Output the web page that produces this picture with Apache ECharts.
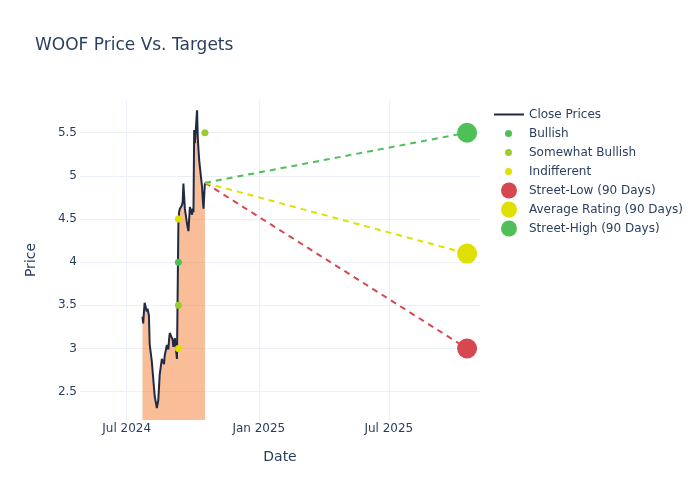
<!DOCTYPE html>
<html><head><meta charset="utf-8">
<script src="https://cdn.jsdelivr.net/npm/echarts@6/dist/echarts.min.js"></script>
<style>html,body{margin:0;padding:0;background:#fff}#c{width:700px;height:500px}</style>
</head><body><div id="c"></div>
<script>
const closeDates = ['2024-07-23','2024-07-24','2024-07-25','2024-07-26','2024-07-29','2024-07-30','2024-07-31',
  '2024-08-01','2024-08-02','2024-08-05','2024-08-06','2024-08-07','2024-08-08','2024-08-09',
  '2024-08-12','2024-08-13','2024-08-14','2024-08-15','2024-08-16','2024-08-19','2024-08-20',
  '2024-08-21','2024-08-22','2024-08-23','2024-08-26','2024-08-27','2024-08-28','2024-08-29','2024-08-30',
  '2024-09-03','2024-09-04','2024-09-05','2024-09-06','2024-09-09','2024-09-10','2024-09-11',
  '2024-09-12','2024-09-13','2024-09-16','2024-09-17','2024-09-18','2024-09-19','2024-09-20',
  '2024-09-23','2024-09-24','2024-09-25','2024-09-26','2024-09-27','2024-09-30',
  '2024-10-01','2024-10-02','2024-10-03','2024-10-04','2024-10-07','2024-10-08','2024-10-09',
  '2024-10-10','2024-10-11','2024-10-14','2024-10-15','2024-10-16','2024-10-17','2024-10-18'];
const closePrices = [3.37,3.29,3.42,3.53,3.43,3.46,3.44,
  3.38,3.05,2.85,2.75,2.65,2.55,2.45,
  2.31,2.32,2.40,2.55,2.70,2.88,2.90,
  2.86,2.82,2.92,3.04,3.02,2.99,3.10,3.18,
  3.10,3.02,3.00,3.12,2.88,2.90,4.45,
  4.58,4.62,4.66,4.70,4.91,4.92,4.62,
  4.45,4.40,4.36,4.50,4.64,4.55,
  4.62,4.58,5.53,5.38,5.76,5.45,5.30,
  5.18,5.10,4.87,4.72,4.62,4.78,4.92];

const bullishDates = ['2024-09-11'];
const bullishTargets = [4.0];
const somewhatBullishDates = ['2024-09-11','2024-10-18'];
const somewhatBullishTargets = [3.5, 5.5];
const indifferentDates = ['2024-09-11','2024-09-11'];
const indifferentTargets = [3.0, 4.5];

const targetDate = '2025-10-18';
const streetLow = 3.0;
const averageRating = 4.1;
const streetHigh = 5.5;

const xTickDates = ['2024-07-01','2025-01-01','2025-07-01'];
const xTickLabels = ['Jul 2024','Jan 2025','Jul 2025'];
const yTickValues = [2.5,3,3.5,4,4.5,5,5.5];

const ts = s => { const p = s.split('-').map(Number); return Date.UTC(p[0], p[1]-1, p[2]); };
const pairs = (ds, vs) => ds.map((d,i) => [ts(d), vs[i]]);
const xTickTs = xTickDates.map(ts);
const lastPt = [ts(closeDates[closeDates.length-1]), closePrices[closePrices.length-1]];

const txt = '#2a3f5f';
const font = 'DejaVu Sans';
const cRed = '#d6474f', cYellow = '#e0e000', cGreen = '#4fc058', cYG = '#9acd32';
const cLine = '#1f2a44';

function dashed(name, target, color){
  return {name, type:'line', data:[lastPt, [ts(targetDate), target]], symbol:'none',
    lineStyle:{color, width:2, type:[6,5]}, z:3, silent:true};
}
function bigDot(name, target, color){
  return {name, type:'scatter', data:[[ts(targetDate), target]], symbol:'circle', symbolSize:20,
    itemStyle:{color, opacity:1}, z:5};
}
function smallDot(name, ds, vs, color){
  return {name, type:'scatter', data:pairs(ds, vs), symbol:'circle', symbolSize:7,
    itemStyle:{color, opacity:1}, z:6};
}

const chart = echarts.init(document.getElementById('c'));
chart.setOption({
  animation:false,
  backgroundColor:'#fff',
  textStyle:{fontFamily:font},
  title:{text:'WOOF Price Vs. Targets', left:35, top:37, padding:0,
    textStyle:{fontFamily:font, fontSize:17, fontWeight:'normal', color:txt}},
  grid:{left:80, right:220, top:100, bottom:80, containLabel:false},
  legend:[
    {orient:'vertical', left:494, top:105, padding:0, itemGap:0, itemWidth:30, itemHeight:2,
      data:[{name:'Close Prices', icon:'path://M0,0L30,0L30,2L0,2Z', itemStyle:{color:cLine}}],
      textStyle:{fontFamily:font, fontSize:12, color:txt, lineHeight:19}},
    {orient:'vertical', left:505, top:124, padding:0, itemGap:0, itemWidth:7, itemHeight:7,
      data:['Bullish','Somewhat Bullish','Indifferent'],
      textStyle:{fontFamily:font, fontSize:12, color:txt, lineHeight:19, padding:[0,0,0,12]}},
    {orient:'vertical', left:501, top:181, padding:0, itemGap:0, itemWidth:16, itemHeight:16,
      data:['Street-Low (90 Days)','Average Rating (90 Days)','Street-High (90 Days)'],
      textStyle:{fontFamily:font, fontSize:12, color:txt, lineHeight:19, padding:[0,0,0,7]}}
  ],
  xAxis:{type:'value', min:ts('2024-04-27'), max:ts('2025-11-05'),
    name:'Date', nameLocation:'middle', nameGap:30,
    nameTextStyle:{fontFamily:font, fontSize:14, color:txt},
    axisLine:{show:false},
    axisTick:{show:false, customValues:xTickTs},
    axisLabel:{customValues:xTickTs, color:txt, fontSize:12, fontFamily:font, margin:3,
      formatter:v => { const i = xTickTs.indexOf(v); return i >= 0 ? xTickLabels[i] : ''; }},
    splitLine:{show:true, lineStyle:{color:'#ebf0f8', width:1}}},
  yAxis:{type:'value', min:2.172, max:5.879,
    name:'Price', nameLocation:'middle', nameGap:42, nameRotate:90,
    nameTextStyle:{fontFamily:font, fontSize:14, color:txt},
    axisLine:{show:false},
    axisTick:{show:false, customValues:yTickValues},
    axisLabel:{customValues:yTickValues, color:txt, fontSize:12, fontFamily:font, margin:3},
    splitLine:{show:true, lineStyle:{color:'#ebf0f8', width:1}}},
  series:[
    {name:'Close Prices', type:'line', data:pairs(closeDates, closePrices), symbol:'none', showSymbol:false,
      lineStyle:{color:cLine, width:2}, itemStyle:{color:cLine},
      areaStyle:{color:'rgba(244,128,56,0.52)', opacity:1, origin:'start'}, z:2},
    smallDot('Bullish', bullishDates, bullishTargets, cGreen),
    smallDot('Somewhat Bullish', somewhatBullishDates, somewhatBullishTargets, cYG),
    smallDot('Indifferent', indifferentDates, indifferentTargets, cYellow),
    dashed('low-line', streetLow, cRed),
    dashed('avg-line', averageRating, cYellow),
    dashed('high-line', streetHigh, cGreen),
    bigDot('Street-Low (90 Days)', streetLow, cRed),
    bigDot('Average Rating (90 Days)', averageRating, cYellow),
    bigDot('Street-High (90 Days)', streetHigh, cGreen)
  ]
});
</script>
</body></html>
